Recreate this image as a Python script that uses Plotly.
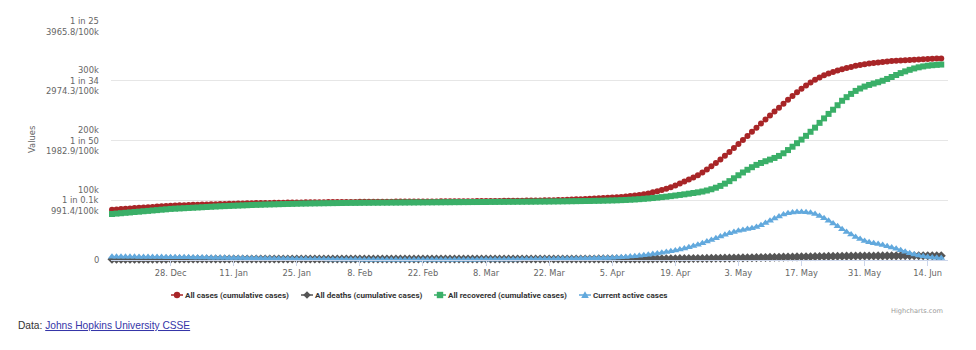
import pandas as pd
import plotly.graph_objects as go

# Daily series, thousands of people, one value per day from the start date
START_DATE = "2020-12-15"

all_cases_k = [
    84.0, 84.6, 85.2, 85.8, 86.4, 86.9, 87.4, 87.9, 88.4, 88.9, 89.4, 89.9, 90.4, 90.9,
    91.2, 91.5, 91.8, 92.0, 92.3, 92.6, 92.8, 93.0, 93.3, 93.5, 93.7, 93.9, 94.1, 94.3,
    94.5, 94.7, 94.9, 95.0, 95.2, 95.3, 95.5, 95.6, 95.8, 95.9, 96.0, 96.1, 96.2, 96.3,
    96.4, 96.5, 96.6, 96.7, 96.8, 96.8, 96.9, 97.0, 97.0, 97.1, 97.1, 97.2, 97.2, 97.3,
    97.3, 97.4, 97.4, 97.5, 97.5, 97.6, 97.6, 97.7, 97.7, 97.8, 97.8, 97.9, 97.9, 98.0,
    98.0, 98.1, 98.1, 98.2, 98.2, 98.3, 98.3, 98.4, 98.4, 98.5, 98.5, 98.6, 98.7, 98.7,
    98.8, 98.8, 98.9, 99.0, 99.0, 99.1, 99.2, 99.3, 99.4, 99.5, 99.6, 99.7, 99.8, 100.0,
    100.2, 100.4, 100.6, 100.9, 101.2, 101.5, 101.8, 102.1, 102.4, 102.8, 103.2, 103.6, 104.0, 104.4,
    104.9, 105.5, 106.2, 107.0, 107.9, 108.9, 110.0, 111.5, 113.2, 115.0, 117.0, 119.3, 121.8, 124.6,
    128.0, 131.2, 134.6, 138.2, 142.0, 146.5, 151.5, 156.8, 162.4, 168.2, 174.3, 180.7, 187.3, 194.0,
    200.8, 207.7, 214.6, 221.5, 228.4, 235.2, 241.9, 248.5, 255.0, 261.6, 268.1, 274.5, 280.7, 286.6,
    292.0, 297.0, 301.5, 305.5, 309.0, 312.0, 314.7, 317.2, 319.4, 321.4, 323.2, 324.9, 326.4, 327.7,
    328.8, 329.8, 330.7, 331.5, 332.2, 332.9, 333.5, 334.0, 334.5, 334.9, 335.3, 335.7, 336.1, 336.5,
    336.8, 337.1, 337.4,
]

all_deaths_k = [
    1.31, 1.33, 1.35, 1.37, 1.39, 1.41, 1.43, 1.45, 1.46, 1.48, 1.49, 1.51, 1.52, 1.53,
    1.55, 1.56, 1.57, 1.58, 1.59, 1.60, 1.61, 1.62, 1.63, 1.63, 1.64, 1.65, 1.65, 1.66,
    1.66, 1.67, 1.67, 1.68, 1.68, 1.68, 1.69, 1.69, 1.69, 1.69, 1.70, 1.70, 1.70, 1.70,
    1.70, 1.70, 1.71, 1.71, 1.71, 1.71, 1.71, 1.71, 1.71, 1.72, 1.72, 1.72, 1.72, 1.72,
    1.72, 1.72, 1.72, 1.72, 1.72, 1.73, 1.73, 1.73, 1.73, 1.73, 1.73, 1.73, 1.73, 1.73,
    1.73, 1.73, 1.73, 1.73, 1.73, 1.73, 1.73, 1.73, 1.74, 1.74, 1.74, 1.74, 1.74, 1.74,
    1.74, 1.74, 1.74, 1.74, 1.74, 1.75, 1.75, 1.75, 1.75, 1.75, 1.75, 1.75, 1.75, 1.76,
    1.76, 1.76, 1.76, 1.77, 1.77, 1.77, 1.78, 1.78, 1.79, 1.79, 1.80, 1.80, 1.81, 1.82,
    1.83, 1.84, 1.85, 1.86, 1.87, 1.89, 1.91, 1.93, 1.96, 1.99, 2.03, 2.07, 2.12, 2.17,
    2.23, 2.29, 2.36, 2.44, 2.52, 2.60, 2.69, 2.78, 2.88, 2.98, 3.09, 3.21, 3.33, 3.46,
    3.60, 3.74, 3.88, 4.02, 4.16, 4.30, 4.44, 4.57, 4.70, 4.83, 4.96, 5.08, 5.20, 5.32,
    5.44, 5.56, 5.68, 5.80, 5.92, 6.04, 6.15, 6.26, 6.36, 6.45, 6.53, 6.60, 6.66, 6.71,
    6.76, 6.80, 6.84, 6.88, 6.91, 6.94, 6.97, 7.00, 7.02, 7.04, 7.06, 7.08, 7.10, 7.11,
    7.12, 7.13, 7.14,
]

all_recovered_k = [
    77.0, 77.7, 78.3, 79.0, 79.6, 80.3, 80.9, 81.6, 82.2, 82.9, 83.5, 84.2, 84.8, 85.5,
    85.9, 86.3, 86.7, 87.1, 87.5, 87.9, 88.3, 88.7, 89.1, 89.5, 89.9, 90.2, 90.5, 90.8,
    91.1, 91.4, 91.7, 92.0, 92.3, 92.5, 92.8, 93.0, 93.2, 93.4, 93.6, 93.8, 94.0, 94.2,
    94.4, 94.5, 94.7, 94.8, 94.9, 95.0, 95.1, 95.2, 95.3, 95.4, 95.5, 95.6, 95.6, 95.7,
    95.8, 95.8, 95.9, 95.9, 96.0, 96.0, 96.1, 96.1, 96.2, 96.2, 96.3, 96.3, 96.4, 96.4,
    96.5, 96.5, 96.6, 96.6, 96.7, 96.7, 96.8, 96.8, 96.9, 96.9, 97.0, 97.0, 97.1, 97.1,
    97.2, 97.2, 97.3, 97.3, 97.4, 97.4, 97.5, 97.5, 97.6, 97.6, 97.7, 97.8, 97.8, 97.9,
    98.0, 98.1, 98.2, 98.3, 98.4, 98.5, 98.6, 98.7, 98.8, 99.0, 99.1, 99.3, 99.5, 99.7,
    99.9, 100.2, 100.5, 100.9, 101.3, 101.8, 102.4, 103.0, 103.7, 104.4, 105.2, 106.0, 106.9, 107.9,
    108.9, 109.9, 111.0, 112.1, 113.2, 114.6, 116.3, 118.4, 121.0, 124.0, 127.8, 132.0, 136.8, 141.8,
    146.5, 151.0, 155.3, 159.2, 162.4, 165.3, 168.0, 170.8, 174.2, 178.6, 184.0, 189.6, 195.5, 201.5,
    207.8, 214.6, 221.5, 229.5, 237.0, 244.5, 251.5, 259.0, 266.5, 272.5, 278.0, 283.0, 287.0, 290.3,
    293.0, 295.3, 297.5, 300.0, 303.0, 306.3, 309.6, 312.8, 315.7, 318.3, 320.6, 322.5, 324.0, 325.2,
    326.0, 326.6, 327.1,
]

active_cases_k = [
    5.6, 5.5, 5.5, 5.4, 5.3, 5.3, 5.2, 5.1, 5.1, 5.0, 4.9, 4.9, 4.8, 4.7,
    4.7, 4.6, 4.5, 4.4, 4.3, 4.2, 4.1, 4.0, 3.9, 3.8, 3.7, 3.6, 3.5, 3.4,
    3.3, 3.2, 3.1, 3.0, 2.8, 2.7, 2.6, 2.4, 2.3, 2.2, 2.0, 1.9, 1.8, 1.7,
    1.6, 1.5, 1.4, 1.3, 1.2, 1.1, 1.0, 0.9, 0.9, 0.8, 0.8, 0.7, 0.7, 0.7,
    0.6, 0.6, 0.6, 0.6, 0.5, 0.5, 0.5, 0.5, 0.5, 0.5, 0.5, 0.5, 0.5, 0.5,
    0.5, 0.5, 0.5, 0.5, 0.5, 0.5, 0.5, 0.5, 0.6, 0.6, 0.6, 0.6, 0.7, 0.7,
    0.7, 0.8, 0.8, 0.9, 0.9, 1.0, 1.0, 1.1, 1.2, 1.3, 1.4, 1.5, 1.6, 1.7,
    1.8, 1.9, 2.0, 2.1, 2.2, 2.3, 2.4, 2.5, 2.6, 2.8, 3.0, 3.2, 3.4, 3.7,
    4.1, 4.6, 5.1, 5.7, 6.4, 7.2, 8.0, 8.9, 9.9, 11.0, 12.2, 13.4, 14.7, 16.1,
    17.6, 19.3, 21.2, 23.3, 25.6, 28.1, 30.8, 33.6, 36.5, 39.4, 42.2, 44.8, 47.0, 48.8,
    50.3, 51.7, 53.2, 55.4, 58.3, 61.8, 65.6, 69.4, 73.0, 76.0, 78.2, 79.6, 80.3, 80.5,
    80.1, 79.0, 76.9, 73.8, 69.9, 65.6, 61.0, 56.3, 51.6, 47.0, 42.6, 38.6, 35.0, 32.0,
    29.8, 28.1, 26.6, 25.0, 23.2, 21.1, 18.8, 16.3, 13.8, 11.5, 9.4, 7.6, 6.1, 5.0,
    4.2, 3.6, 3.2,
]

series_names = [
    "All cases (cumulative cases)",
    "All deaths (cumulative cases)",
    "All recovered (cumulative cases)",
    "Current active cases",
]

x_tick_dates = [
    "2020-12-28", "2021-01-11", "2021-01-25", "2021-02-08", "2021-02-22",
    "2021-03-08", "2021-03-22", "2021-04-05", "2021-04-19", "2021-05-03",
    "2021-05-17", "2021-05-31", "2021-06-14",
]
x_tick_labels = [
    "28. Dec", "11. Jan", "25. Jan", "8. Feb", "22. Feb", "8. Mar", "22. Mar",
    "5. Apr", "19. Apr", "3. May", "17. May", "31. May", "14. Jun",
]

y_tick_values = [0, 100000, 200000, 300000, 400000]
# Each y label has up to three lines: count, "1 in N", rate per 100k.
# The count line of the topmost label is not shown.
y_tick_labels = [
    [None, "0", None],
    ["100k", "1 in 0.1k", "991.4/100k"],
    ["200k", "1 in 50", "1982.9/100k"],
    ["300k", "1 in 34", "2974.3/100k"],
    [None, "1 in 25", "3965.8/100k"],
]

# ---- styling ----
W, H = 976, 350
ML, MR, MT, MB = 111, 28, 21, 90
PLOT_W = W - ML - MR
PLOT_H = H - MT - MB

colors = ["#a82527", "#555555", "#3aaf68", "#62a9dd"]
symbols = ["circle", "diamond", "square", "triangle-up"]
marker_sizes = [6, 7, 6, 7]

LABEL_FONT = "DejaVu Sans"
AXIS_GREY = "#666666"

# legend row: left edge of each entry's text (px) and row centre
legend_text_x = [184, 314, 447, 592]
LEGEND_Y = 295


def px_x(px):
    return (px - ML) / PLOT_W


def px_y(py):
    return (H - MB - py) / PLOT_H


dates = pd.date_range(START_DATE, periods=len(all_cases_k), freq="D")
values_k = [all_cases_k, all_deaths_k, all_recovered_k, active_cases_k]

fig = go.Figure()
for name, vals, col, sym, ms in zip(series_names, values_k, colors, symbols, marker_sizes):
    fig.add_trace(go.Scatter(
        x=dates,
        y=[v * 1000 for v in vals],
        name=name,
        mode="lines+markers",
        line=dict(color=col, width=1.5),
        marker=dict(symbol=sym, size=ms, color=col, line=dict(width=0)),
        cliponaxis=False,
        showlegend=False,
    ))

annotations = []
shapes = []

line_step = 10.5
for val, lines in zip(y_tick_values, y_tick_labels):
    for i, txt in enumerate(lines):
        if txt is None:
            continue
        annotations.append(dict(
            text=txt, xref="paper", yref="y", x=0, y=val,
            xanchor="right", yanchor="middle", xshift=-10,
            yshift=(1 - i) * line_step, showarrow=False,
            font=dict(family=LABEL_FONT, size=8.4, color=AXIS_GREY),
        ))

# legend entries: short line with the series marker, then bold label
marker_paths = {
    "diamond": "M0,3.8 L3.8,0 L0,-3.8 L-3.8,0 Z",
    "triangle-up": "M-3.8,-3 L3.8,-3 L0,3.8 Z",
}
for name, col, sym, tx in zip(series_names, colors, symbols, legend_text_x):
    cx = px_x(tx - 7)
    cy = px_y(LEGEND_Y)
    common = dict(xref="paper", yref="paper", xsizemode="pixel", ysizemode="pixel",
                  xanchor=cx, yanchor=cy, layer="above")
    shapes.append(dict(type="line", x0=-6, x1=6, y0=0, y1=0,
                       line=dict(color=col, width=1.5), **common))
    if sym == "circle":
        shapes.append(dict(type="circle", x0=-3.2, x1=3.2, y0=-3.2, y1=3.2,
                           fillcolor=col, line=dict(width=0), **common))
    elif sym == "square":
        shapes.append(dict(type="rect", x0=-3.2, x1=3.2, y0=-3.2, y1=3.2,
                           fillcolor=col, line=dict(width=0), **common))
    else:
        shapes.append(dict(type="path", path=marker_paths[sym],
                           fillcolor=col, line=dict(width=0), **common))
    annotations.append(dict(
        text=name, xref="paper", yref="paper", x=px_x(tx - 1), y=cy,
        xanchor="left", yanchor="middle", showarrow=False,
        font=dict(family="Roboto", size=8.1, color="#333333", weight="bold"),
    ))

annotations.append(dict(
    text="Values", textangle=-90, xref="paper", yref="paper",
    x=px_x(32), y=px_y(140), xanchor="center", yanchor="middle",
    showarrow=False, font=dict(family=LABEL_FONT, size=8.4, color=AXIS_GREY),
))
annotations.append(dict(
    text="Highcharts.com", xref="paper", yref="paper",
    x=px_x(945), y=px_y(311), xanchor="right", yanchor="middle",
    showarrow=False, font=dict(family=LABEL_FONT, size=6.6, color="#999999"),
))
annotations.append(dict(
    text='Data: <a href="https://github.com/CSSEGISandData/COVID-19" '
         'style="color:#3535a8"><u>Johns Hopkins University CSSE</u></a>',
    xref="paper", yref="paper", x=px_x(16), y=px_y(325),
    xanchor="left", yanchor="middle", showarrow=False,
    font=dict(family="Liberation Sans", size=10.2, color="#333333"),
))

day = pd.Timedelta(days=1)
fig.update_layout(
    width=W, height=H,
    margin=dict(l=ML, r=MR, t=MT, b=MB, pad=0, autoexpand=False),
    paper_bgcolor="white", plot_bgcolor="white",
    hovermode=False,
    showlegend=False,
    xaxis=dict(
        type="date",
        range=[dates[0] - 0.22 * day, dates[0] + 185.5 * day],
        tickvals=x_tick_dates, ticktext=x_tick_labels,
        tickfont=dict(family=LABEL_FONT, size=8.3, color=AXIS_GREY),
        ticks="outside", ticklen=5, tickcolor="#ccd6eb", tickwidth=1,
        showline=True, linecolor="#ccd6eb", linewidth=1,
        showgrid=False, zeroline=False,
    ),
    yaxis=dict(
        range=[0, 400000],
        tickvals=y_tick_values, showticklabels=False,
        showgrid=True, gridcolor="#e6e6e6", gridwidth=1,
        zeroline=False, ticks="",
    ),
    annotations=annotations,
    shapes=shapes,
)

fig.write_html("out.html")
